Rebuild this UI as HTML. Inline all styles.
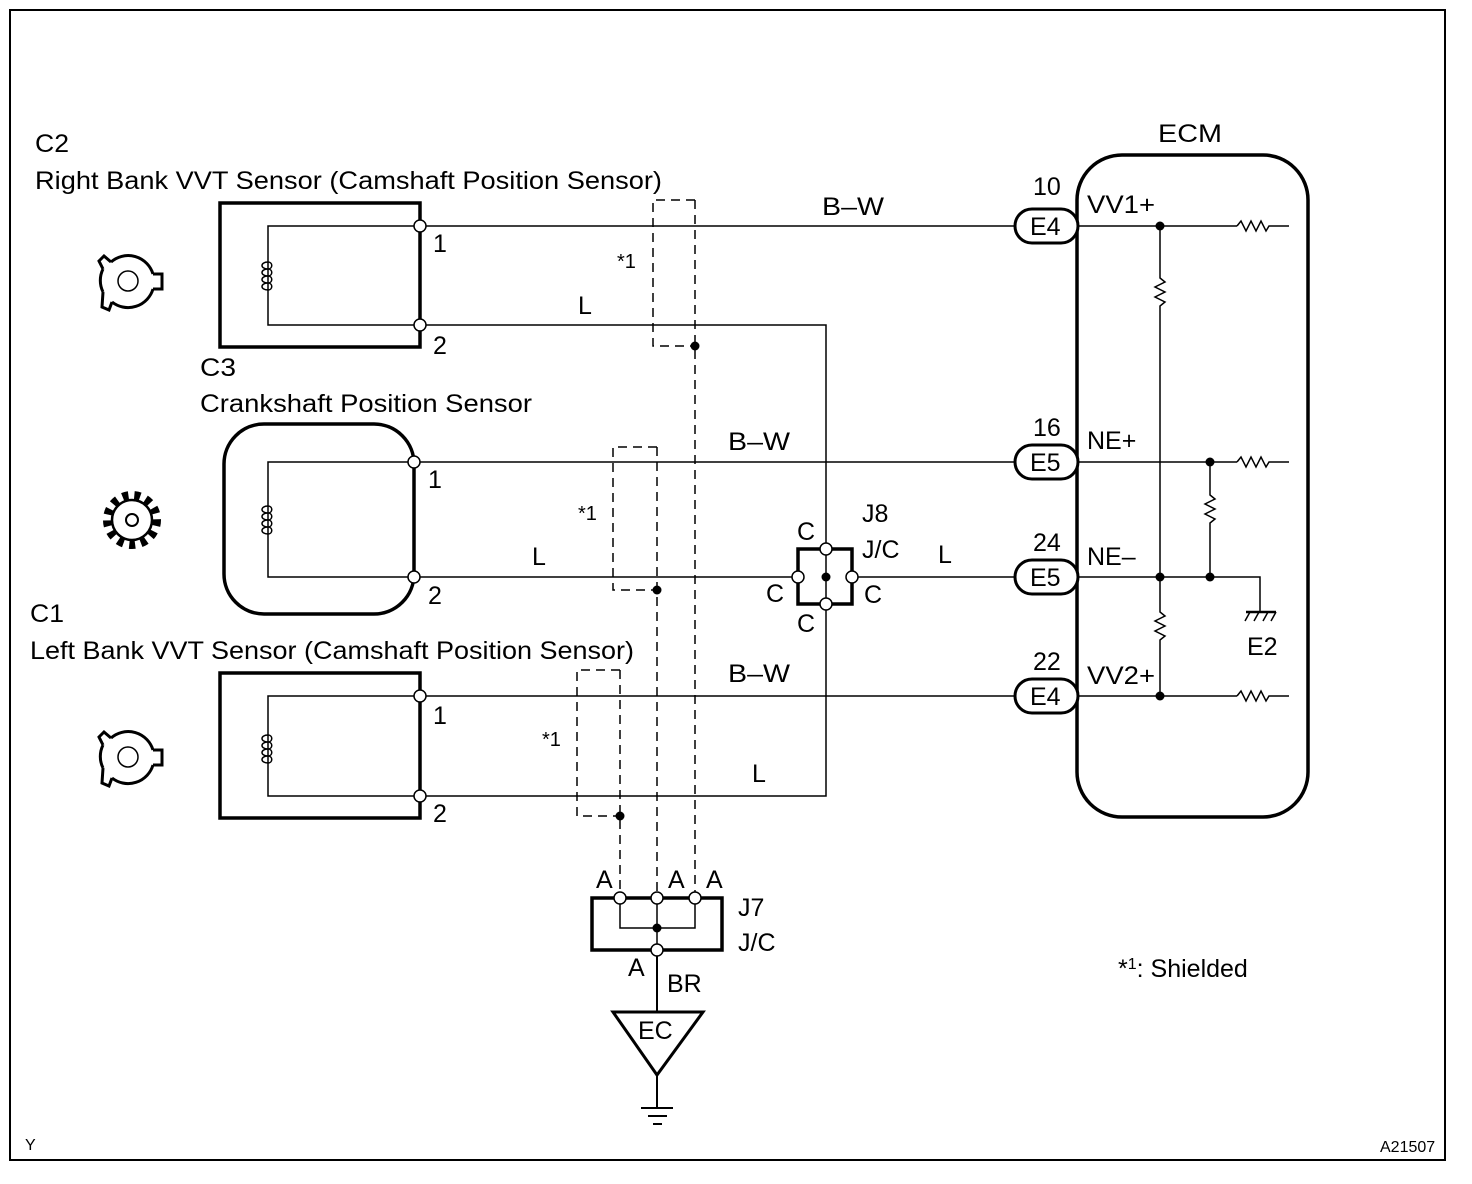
<!DOCTYPE html>
<html><head><meta charset="utf-8"><style>
html,body{margin:0;padding:0;background:#fff}
svg{display:block}
text{font-family:"Liberation Sans",Arial,sans-serif;font-size:25px;fill:#000}
</style></head><body>
<svg width="1472" height="1184" viewBox="0 0 1472 1184" xmlns="http://www.w3.org/2000/svg">
<rect x="10" y="10" width="1435" height="1150" fill="none" stroke="#000" stroke-width="2"/>
<g fill="none" stroke="#000">
<rect x="220" y="203" width="200" height="144" stroke-width="3.5"/>
<rect x="224" y="424" width="190" height="190" rx="40" stroke-width="3.5"/>
<rect x="220" y="673" width="200" height="145" stroke-width="3.5"/>
<g stroke-width="1.5">
<polyline points="420,226 268,226 268,325 420,325"/>
<polyline points="414,462 268,462 268,577 414,577"/>
<polyline points="420,696 268,696 268,796 420,796"/>
<line x1="420" y1="226" x2="1015" y2="226"/>
<polyline points="420,325 826,325 826,796 420,796"/>
<line x1="414" y1="462" x2="1015" y2="462"/>
<line x1="414" y1="577" x2="798" y2="577"/>
<line x1="852" y1="577" x2="1015" y2="577"/>
<line x1="420" y1="696" x2="1015" y2="696"/>
</g>
<g stroke-width="1.5">
<path d="M268,262 c-8,0 -8,7 0,7 c-8,0 -8,7 0,7 c-8,0 -8,7 0,7 c-8,0 -8,7 0,7 M268,262 c5,0 5,7 0,7 c5,0 5,7 0,7 c5,0 5,7 0,7 c5,0 5,7 0,7"/>
<path d="M268,506 c-8,0 -8,7 0,7 c-8,0 -8,7 0,7 c-8,0 -8,7 0,7 c-8,0 -8,7 0,7 M268,506 c5,0 5,7 0,7 c5,0 5,7 0,7 c5,0 5,7 0,7 c5,0 5,7 0,7"/>
<path d="M268,735 c-8,0 -8,7 0,7 c-8,0 -8,7 0,7 c-8,0 -8,7 0,7 c-8,0 -8,7 0,7 M268,735 c5,0 5,7 0,7 c5,0 5,7 0,7 c5,0 5,7 0,7 c5,0 5,7 0,7"/>
</g>
<g stroke-width="1.5" stroke-dasharray="9,6">
<polyline points="695,200 653,200 653,346 695,346"/>
<line x1="695" y1="200" x2="695" y2="898"/>
<polyline points="657,447 613,447 613,590 657,590"/>
<line x1="657" y1="447" x2="657" y2="898"/>
<polyline points="620,670 577,670 577,816 620,816"/>
<line x1="620" y1="670" x2="620" y2="898"/>
</g>
<rect x="798" y="549" width="54" height="55" stroke-width="3.5"/>
<rect x="592" y="898" width="130" height="52" stroke-width="3.5"/>
<g stroke-width="1.5">
<polyline points="620,898 620,928 695,928 695,898"/>
<line x1="657" y1="898" x2="657" y2="950"/>
</g>
<line x1="657" y1="950" x2="657" y2="1012" stroke-width="2"/>
<polygon points="613,1012 703,1012 657,1075" stroke-width="3"/>
<line x1="657" y1="1075" x2="657" y2="1108" stroke-width="2"/>
<line x1="641" y1="1108" x2="673" y2="1108" stroke-width="2"/>
<line x1="648" y1="1116" x2="667" y2="1116" stroke-width="2"/>
<line x1="653" y1="1124" x2="662" y2="1124" stroke-width="2"/>
<rect x="1077" y="155" width="231" height="662" rx="45" stroke-width="3.5"/>
<g stroke-width="1.5">
<line x1="1078" y1="226" x2="1237" y2="226"/><path d="M1237,226 l4,-5 l5,10 l5,-10 l5,10 l5,-10 l5,10 l3,-5 h20"/>
<line x1="1078" y1="462" x2="1237" y2="462"/><path d="M1237,462 l4,-5 l5,10 l5,-10 l5,10 l5,-10 l5,10 l3,-5 h20"/>
<line x1="1078" y1="696" x2="1237" y2="696"/><path d="M1237,696 l4,-5 l5,10 l5,-10 l5,10 l5,-10 l5,10 l3,-5 h20"/>
<polyline points="1078,577 1260,577 1260,612"/>
<path d="M1160,226 V278 l5,4 l-10,5 l10,5 l-10,5 l10,5 l-5,4 V612 l5,4 l-10,5 l10,5 l-10,5 l10,5 l-5,4 V696"/>
<path d="M1210,462 V495 l5,4 l-10,5 l10,5 l-10,5 l10,5 l-5,4 V577"/>
<line x1="1246" y1="612" x2="1276" y2="612" stroke-width="2.5"/>
<path d="M1250,612 l-5,9 M1259,612 l-5,9 M1268,612 l-5,9 M1276,612 l-5,9"/>
</g>
<g stroke-width="3" fill="#fff">
<rect x="1015" y="209" width="63" height="34" rx="17"/>
<rect x="1015" y="445" width="63" height="34" rx="17"/>
<rect x="1015" y="560" width="63" height="34" rx="17"/>
<rect x="1015" y="679" width="63" height="34" rx="17"/>
</g>
<g stroke-width="3">
<path d="M111,262 A26,26 0 0 1 153,274 M153,289 A26,26 0 0 1 112,302 M103,292 A26,26 0 0 1 103,269"/>
<path d="M103,269 l-4,-8 l5,-5 l7,6 M153,274 h9 v15 h-9 M112,302 l-3,8 l-7,-3 l1,-15"/>
<circle cx="128" cy="281" r="10" stroke-width="1.5"/>
<path d="M111,738 A26,26 0 0 1 153,750 M153,765 A26,26 0 0 1 112,778 M103,768 A26,26 0 0 1 103,745"/>
<path d="M103,745 l-4,-8 l5,-5 l7,6 M153,750 h9 v15 h-9 M112,778 l-3,8 l-7,-3 l1,-15"/>
<circle cx="128" cy="757" r="10" stroke-width="1.5"/>
<circle cx="132" cy="520" r="20" stroke-width="2.5"/>
<circle cx="132" cy="520" r="25" stroke-width="8" stroke-dasharray="6,6"/>
<circle cx="132" cy="520" r="6" stroke-width="2"/>
</g>
</g>
<g fill="#fff" stroke="#000" stroke-width="1.5">
<circle cx="420" cy="226" r="6"/><circle cx="420" cy="325" r="6"/>
<circle cx="414" cy="462" r="6"/><circle cx="414" cy="577" r="6"/>
<circle cx="420" cy="696" r="6"/><circle cx="420" cy="796" r="6"/>
<circle cx="826" cy="549" r="6"/><circle cx="798" cy="577" r="6"/><circle cx="852" cy="577" r="6"/><circle cx="826" cy="604" r="6"/>
<circle cx="620" cy="898" r="6"/><circle cx="657" cy="898" r="6"/><circle cx="695" cy="898" r="6"/><circle cx="657" cy="950" r="6"/>
</g>
<g fill="#000">
<circle cx="695" cy="346" r="4.5"/><circle cx="657" cy="590" r="4.5"/><circle cx="620" cy="816" r="4.5"/>
<circle cx="826" cy="577" r="4.5"/><circle cx="657" cy="928" r="4.5"/>
<circle cx="1160" cy="226" r="4.5"/><circle cx="1160" cy="577" r="4.5"/><circle cx="1160" cy="696" r="4.5"/>
<circle cx="1210" cy="462" r="4.5"/><circle cx="1210" cy="577" r="4.5"/>
</g>
<text x="35" y="152" textLength="34" lengthAdjust="spacingAndGlyphs">C2</text>
<text x="35" y="189" textLength="627" lengthAdjust="spacingAndGlyphs">Right Bank VVT Sensor (Camshaft Position Sensor)</text>
<text x="200" y="376" textLength="36" lengthAdjust="spacingAndGlyphs">C3</text>
<text x="200" y="412" textLength="332" lengthAdjust="spacingAndGlyphs">Crankshaft Position Sensor</text>
<text x="30" y="622" textLength="34" lengthAdjust="spacingAndGlyphs">C1</text>
<text x="30" y="659" textLength="604" lengthAdjust="spacingAndGlyphs">Left Bank VVT Sensor (Camshaft Position Sensor)</text>
<text x="433" y="252">1</text><text x="433" y="354">2</text>
<text x="428" y="488">1</text><text x="428" y="604">2</text>
<text x="433" y="724">1</text><text x="433" y="822">2</text>
<text x="822" y="215" textLength="62" lengthAdjust="spacingAndGlyphs">B–W</text><text x="578" y="314">L</text>
<text x="728" y="450" textLength="62" lengthAdjust="spacingAndGlyphs">B–W</text><text x="532" y="565">L</text>
<text x="728" y="682" textLength="62" lengthAdjust="spacingAndGlyphs">B–W</text><text x="752" y="782">L</text>
<text x="938" y="563">L</text>
<text x="617" y="268" style="font-size:20px">*1</text>
<text x="578" y="520" style="font-size:20px">*1</text>
<text x="542" y="746" style="font-size:20px">*1</text>
<text x="862" y="522">J8</text><text x="862" y="558">J/C</text>
<text x="797" y="540">C</text><text x="766" y="602">C</text><text x="864" y="603">C</text><text x="797" y="632">C</text>
<text x="596" y="888">A</text><text x="668" y="888">A</text><text x="706" y="888">A</text><text x="628" y="976">A</text>
<text x="738" y="916">J7</text><text x="738" y="951">J/C</text>
<text x="667" y="992">BR</text>
<text x="638" y="1039">EC</text>
<text x="1158" y="142" textLength="64" lengthAdjust="spacingAndGlyphs">ECM</text>
<text x="1033" y="195">10</text><text x="1033" y="436">16</text><text x="1033" y="551">24</text><text x="1033" y="670">22</text>
<text x="1030" y="235">E4</text><text x="1030" y="471">E5</text><text x="1030" y="586">E5</text><text x="1030" y="705">E4</text>
<text x="1087" y="213" textLength="68" lengthAdjust="spacingAndGlyphs">VV1+</text><text x="1087" y="449">NE+</text><text x="1087" y="565">NE–</text><text x="1087" y="684" textLength="68" lengthAdjust="spacingAndGlyphs">VV2+</text>
<text x="1247" y="655">E2</text>
<text x="1118" y="977">*<tspan dy="-8" style="font-size:16px">1</tspan><tspan dy="8">: Shielded</tspan></text>
<text x="25" y="1150" style="font-size:16px">Y</text>
<text x="1380" y="1152" style="font-size:16px">A21507</text>
</svg>
</body></html>
